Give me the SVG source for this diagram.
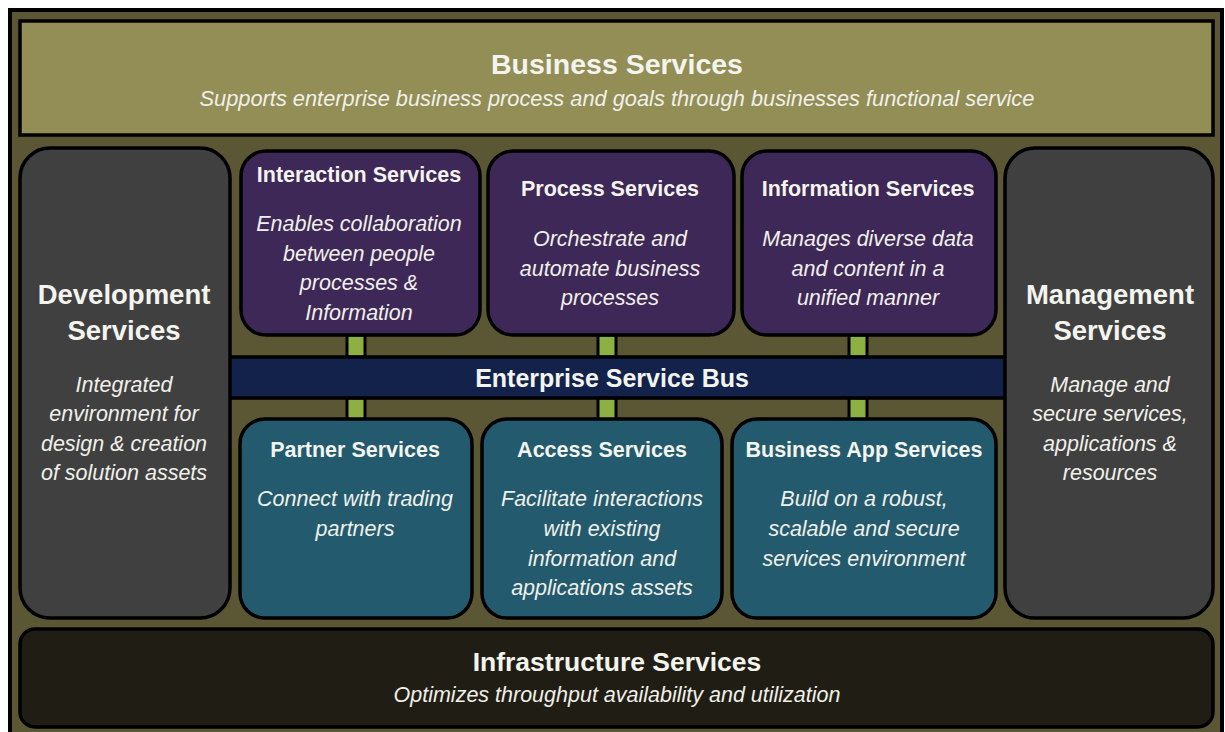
<svg xmlns="http://www.w3.org/2000/svg" width="1225" height="732" viewBox="0 0 1225 732">
<style>
.box{stroke:#000;stroke-width:3.5}
.t{font-family:"Liberation Sans",Arial,sans-serif;font-weight:bold;fill:#f4f4ee;text-anchor:middle}
.i{font-family:"Liberation Sans",Arial,sans-serif;font-style:italic;fill:#f0f0ea;text-anchor:middle;font-size:21.5px}
.lnk{fill:#8db043;stroke:#000;stroke-width:3}
</style>
<rect width="1225" height="732" fill="#ffffff"/>
<rect x="10" y="10" width="1212" height="730" fill="#5b5735" stroke="#000" stroke-width="4"/>
<g id="business">
<rect class="box" x="20" y="21" width="1193" height="114" fill="#928e56"/>
<text class="t" x="617" y="74" font-size="28.5">Business Services</text>
<text class="i" x="617" y="106" style="font-size:21.8px">Supports enterprise business process and goals through businesses functional service</text>
</g>
<g id="connectors">
<rect class="lnk" x="347" y="335" width="18" height="22"/>
<rect class="lnk" x="598" y="335" width="18" height="22"/>
<rect class="lnk" x="849" y="335" width="18" height="22"/>
<rect class="lnk" x="347" y="398" width="18" height="22"/>
<rect class="lnk" x="598" y="398" width="18" height="22"/>
<rect class="lnk" x="849" y="398" width="18" height="22"/>
</g>
<g id="esb">
<rect class="box" x="229" y="357" width="777" height="41" fill="#12224b"/>
<text class="t" x="612" y="387" font-size="25">Enterprise Service Bus</text>
</g>
<g id="development">
<rect class="box" x="20" y="148" width="210" height="470" rx="30" fill="#404040"/>
<text class="t" x="124" y="304" font-size="27.5">Development</text>
<text class="t" x="124" y="340" font-size="27.5">Services</text>
<text class="i" x="124" y="392">Integrated</text>
<text class="i" x="124" y="421">environment for</text>
<text class="i" x="124" y="451">design &amp; creation</text>
<text class="i" x="124" y="480">of solution assets</text>
</g>
<g id="management">
<rect class="box" x="1005" y="148" width="208" height="470" rx="30" fill="#404040"/>
<text class="t" x="1110" y="304" font-size="27.5">Management</text>
<text class="t" x="1110" y="340" font-size="27.5">Services</text>
<text class="i" x="1110" y="392">Manage and</text>
<text class="i" x="1110" y="421">secure services,</text>
<text class="i" x="1110" y="451">applications &amp;</text>
<text class="i" x="1110" y="480">resources</text>
</g>
<g id="interaction">
<rect class="box" x="241" y="151" width="239" height="184" rx="25" fill="#3e2857"/>
<text class="t" x="359" y="182" font-size="21.5">Interaction Services</text>
<text class="i" x="359" y="231">Enables collaboration</text>
<text class="i" x="359" y="261">between people</text>
<text class="i" x="359" y="290">processes &amp;</text>
<text class="i" x="359" y="320">Information</text>
</g>
<g id="process">
<rect class="box" x="488" y="151" width="246" height="184" rx="25" fill="#3e2857"/>
<text class="t" x="610" y="196" font-size="21.5">Process Services</text>
<text class="i" x="610" y="246">Orchestrate and</text>
<text class="i" x="610" y="276">automate business</text>
<text class="i" x="610" y="305">processes</text>
</g>
<g id="information">
<rect class="box" x="742" y="151" width="254" height="184" rx="25" fill="#3e2857"/>
<text class="t" x="868" y="196" font-size="21.5">Information Services</text>
<text class="i" x="868" y="246">Manages diverse data</text>
<text class="i" x="868" y="276">and content in a</text>
<text class="i" x="868" y="305">unified manner</text>
</g>
<g id="partner">
<rect class="box" x="240" y="419" width="232" height="199" rx="25" fill="#235a6d"/>
<text class="t" x="355" y="457" font-size="21.5">Partner Services</text>
<text class="i" x="355" y="506">Connect with trading</text>
<text class="i" x="355" y="536">partners</text>
</g>
<g id="access">
<rect class="box" x="482" y="419" width="240" height="199" rx="25" fill="#235a6d"/>
<text class="t" x="602" y="457" font-size="21.5">Access Services</text>
<text class="i" x="602" y="506">Facilitate interactions</text>
<text class="i" x="602" y="536">with existing</text>
<text class="i" x="602" y="566">information and</text>
<text class="i" x="602" y="595">applications assets</text>
</g>
<g id="businessapp">
<rect class="box" x="732" y="419" width="264" height="199" rx="25" fill="#235a6d"/>
<text class="t" x="864" y="457" font-size="21.5">Business App Services</text>
<text class="i" x="864" y="506">Build on a robust,</text>
<text class="i" x="864" y="536">scalable and secure</text>
<text class="i" x="864" y="566">services environment</text>
</g>
<g id="infrastructure">
<rect class="box" x="20" y="629" width="1193" height="98" rx="15" fill="#201e14"/>
<text class="t" x="617" y="671" font-size="26.5">Infrastructure Services</text>
<text class="i" x="617" y="702">Optimizes throughput availability and utilization</text>
</g>
</svg>
